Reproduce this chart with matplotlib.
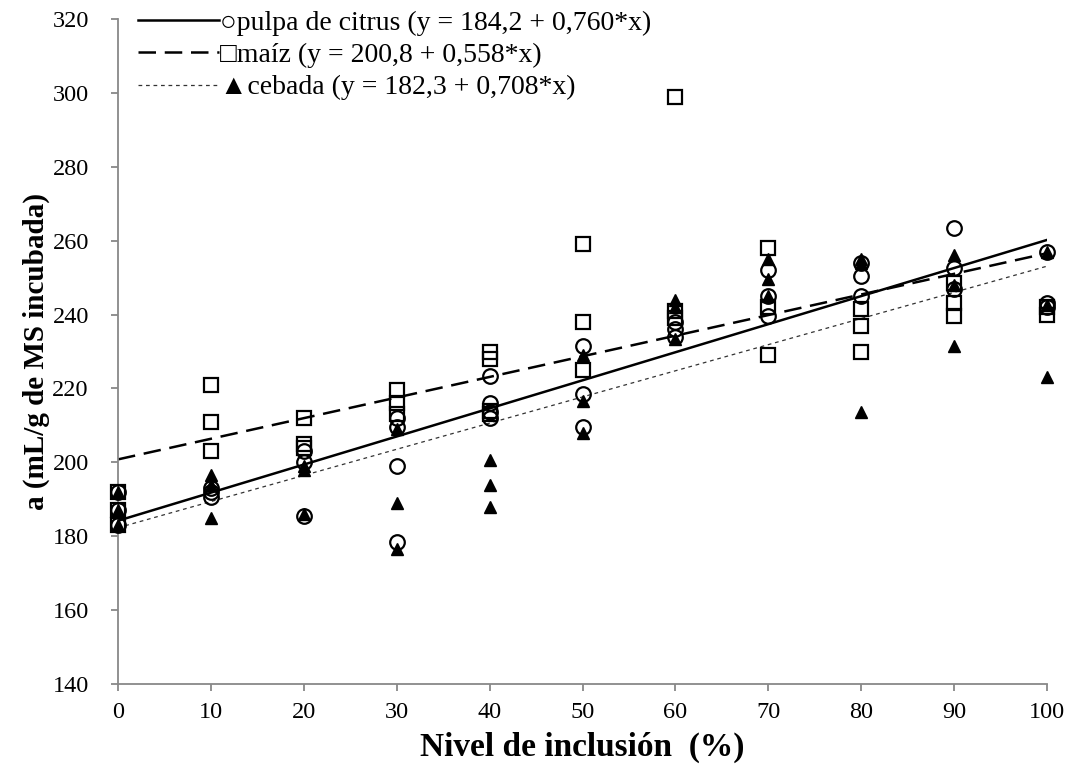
import numpy as np
import matplotlib
matplotlib.use('Agg')
import matplotlib.pyplot as plt

# datos
x_citrus = [0, 0, 0, 10, 10, 10, 20, 20, 20, 30, 30, 30, 30, 40, 40, 40, 40,
            50, 50, 50, 60, 60, 60, 70, 70, 70, 80, 80, 80, 90, 90, 90, 100, 100, 100]
y_citrus = [192, 187, 183, 193, 190.5, 192, 203, 200, 185.5, 212, 209.5, 199, 178.5,
            223.5, 216, 213.5, 212, 231.5, 218.5, 209.5, 238, 236, 234,
            252, 245, 239.5, 254, 250.5, 245, 263.5, 252.5, 247, 257, 243, 242]

x_maiz = [0, 0, 0, 10, 10, 10, 20, 20, 20, 30, 30, 30, 40, 40, 40, 40,
          50, 50, 50, 60, 60, 60, 70, 70, 70, 80, 80, 80, 90, 90, 90, 100, 100]
y_maiz = [192, 187, 183, 221, 211, 203, 212, 205, 204, 219.5, 216, 213,
          230, 228, 214, 213, 259, 238, 225, 299, 241, 239,
          258, 242, 229, 241.5, 237, 230, 248.5, 243, 239.5, 242, 240]

x_cebada = [0, 0, 0, 10, 10, 10, 20, 20, 20, 30, 30, 30, 40, 40, 40,
            50, 50, 50, 60, 60, 60, 70, 70, 70, 80, 80, 80, 90, 90, 90, 100, 100, 100]
y_cebada = [192, 187, 183, 196.5, 185, 194, 199, 198, 186, 209, 189, 176.5,
            200.5, 194, 188, 229, 216.5, 208, 244, 242, 233.5,
            255, 249.5, 245, 255, 254, 213.5, 256, 248, 231.5, 257, 242.5, 223]

# ecuaciones de regresion (legenda)
intercepts = [184.2, 200.8, 182.3]
slopes = [0.760, 0.558, 0.708]
labels = ['\u25cbpulpa de citrus (y = 184,2 + 0,760*x)',
          '\u25a1maíz (y = 200,8 + 0,558*x)',
          '\u25b2cebada (y = 182,3 + 0,708*x)']

plt.rcParams['font.family'] = ['Liberation Serif', 'DejaVu Sans']

fig = plt.figure(figsize=(10.75, 7.78), dpi=100)
ax = fig.add_axes([0.1098, 0.1208, 0.8642, 0.8548])

ax.plot(x_maiz, y_maiz, linestyle='none', marker='s', markersize=10.5,
        markerfacecolor='none', markeredgecolor='black', markeredgewidth=1.6, clip_on=False, zorder=3)
ax.plot(x_citrus, y_citrus, linestyle='none', marker='o', markersize=10.5,
        markerfacecolor='none', markeredgecolor='black', markeredgewidth=1.6, clip_on=False, zorder=4)
ax.plot(x_cebada, y_cebada, linestyle='none', marker='^', markersize=9,
        markerfacecolor='black', markeredgecolor='black', clip_on=False, zorder=5)

xl = np.array([0, 100])
estilos = [dict(linestyle='-', linewidth=1.8, color='black'),
           dict(linestyle=(0, (7, 3.5)), linewidth=1.8, color='black'),
           dict(linestyle=(0, (3, 3)), linewidth=0.9, color='#333333')]
lineas = []
for b0, b1, st in zip(intercepts, slopes, estilos):
    l, = ax.plot(xl, b0 + b1 * xl, zorder=2, **st)
    lineas.append(l)

ax.set_xlim(0, 100)
ax.set_ylim(140, 320)
ax.set_xticks(np.arange(0, 101, 10))
ax.set_yticks(np.arange(140, 321, 20))
for s in ['top', 'right']:
    ax.spines[s].set_visible(False)
for s in ['left', 'bottom']:
    ax.spines[s].set_color('#888888')
    ax.spines[s].set_linewidth(1.3)
ax.tick_params(axis='both', direction='out', length=5, width=1.3, color='#888888',
               labelsize=17.5, pad=8)
ax.tick_params(axis='y', pad=16)

ax.set_xlabel('Nivel de inclusión  (%)', fontsize=24, fontweight='bold', labelpad=6)
ax.set_ylabel('a (mL/g de MS incubada)', fontsize=21, fontweight='bold', labelpad=2)

leg = ax.legend(lineas, labels, loc='upper left', bbox_to_anchor=(0.01, 1.03),
                frameon=False, fontsize=20, handlelength=2.9, handletextpad=0.05,
                labelspacing=0.25, borderaxespad=0)

fig.savefig('out.png', dpi=100)
